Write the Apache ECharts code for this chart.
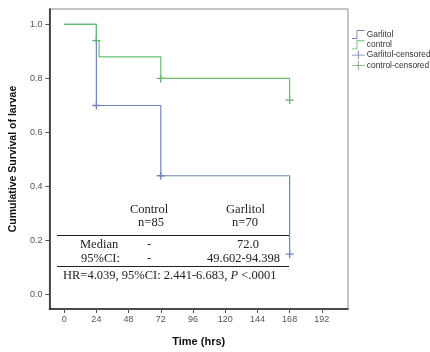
<!DOCTYPE html>
<html>
<head>
<meta charset="utf-8">
<script src="https://cdn.jsdelivr.net/npm/echarts@6/dist/echarts.min.js"></script>
<style>
  html, body { margin: 0; padding: 0; background: #fff; }
  #km { width: 430px; height: 352px; }
</style>
</head>
<body>
<div id="km"></div>
<script>
// Kaplan-Meier steps: [time (hrs), survival]
var garlitolSteps = [[0, 1.0], [24, 0.70], [72, 0.44], [168, 0.15]];
var controlSteps = [[0, 1.0], [24, 0.94], [26, 0.88], [72, 0.80], [168, 0.72]];
var garlitolCensored = [[24, 0.70], [72, 0.44], [168, 0.15]];
var controlCensored = [[24, 0.94], [72, 0.80], [168, 0.72]];

var xTicks = [0, 24, 48, 72, 96, 120, 144, 168, 192];
var yTicks = [0, 0.2, 0.4, 0.6, 0.8, 1.0];

var seriesNames = ['Garlitol', 'control', 'Garlitol-censored', 'control-censored'];
var blue = '#7486c0';
var green = '#68bd72';

var chartDom = document.getElementById('km');
var myChart = echarts.init(chartDom);
var option;

var stepIcon = 'path://M0,9H5V0H14V1H6V10H0Z';
var plusIcon = 'path://M0,4.5H6.5V0H7.5V4.5H14V5.5H7.5V10H6.5V5.5H0Z';
var censorMark = 'path://M4.2,0H5.8V4.2H10V5.8H5.8V10H4.2V5.8H0V4.2H4.2Z';

var serif = '"Liberation Serif", "DejaVu Serif", serif';
var sans = '"Liberation Sans", Arial, sans-serif';
var tableFont = '12.5px ' + serif;

option = {
  animation: false,
  textStyle: { fontFamily: sans },
  grid: {
    left: 43,
    right: 82,
    top: 9,
    bottom: 36,
    show: true,
    borderColor: '#8a8a8a',
    borderWidth: 1
  },
  legend: {
    orient: 'vertical',
    left: 347,
    top: 25,
    itemWidth: 15,
    itemHeight: 9,
    itemGap: 1.3,
    selectedMode: false,
    textStyle: { fontSize: 8.4, color: '#333', padding: [0, 0, 0, -4] },
    data: [
      { name: seriesNames[0], icon: stepIcon },
      { name: seriesNames[1], icon: stepIcon },
      { name: seriesNames[2], icon: plusIcon },
      { name: seriesNames[3], icon: plusIcon }
    ]
  },
  xAxis: {
    type: 'value',
    min: -11,
    max: 211.5,
    name: 'Time (hrs)',
    nameLocation: 'middle',
    nameGap: 27,
    nameTextStyle: { fontWeight: 'bold', fontSize: 11, color: '#111' },
    splitLine: { show: false },
    axisLine: { show: true, onZero: false, lineStyle: { color: '#222', width: 1.5 } },
    axisTick: { show: true, length: 4, customValues: xTicks, lineStyle: { color: '#555' } },
    axisLabel: { customValues: xTicks, margin: 6, fontSize: 9, color: '#555' }
  },
  yAxis: {
    type: 'value',
    min: -0.053,
    max: 1.057,
    name: 'Cumulative Survival of larvae',
    nameLocation: 'middle',
    nameGap: 30,
    nameTextStyle: { fontWeight: 'bold', fontSize: 10.5, color: '#111' },
    splitLine: { show: false },
    axisLine: { show: true, onZero: false, lineStyle: { color: '#222', width: 1.5 } },
    axisTick: { show: true, length: 4, customValues: yTicks, lineStyle: { color: '#555' } },
    axisLabel: {
      customValues: yTicks,
      margin: 7,
      fontSize: 9,
      color: '#555',
      formatter: function (v) { return v.toFixed(1); }
    }
  },
  series: [
    {
      name: seriesNames[0],
      type: 'line',
      step: 'end',
      symbol: 'none',
      color: blue,
      lineStyle: { width: 1.2, color: blue },
      data: garlitolSteps
    },
    {
      name: seriesNames[1],
      type: 'line',
      step: 'end',
      symbol: 'none',
      color: green,
      lineStyle: { width: 1.2, color: green },
      data: controlSteps
    },
    {
      name: seriesNames[2],
      type: 'scatter',
      symbol: censorMark,
      symbolSize: 8,
      color: '#4a5ca6',
      data: garlitolCensored
    },
    {
      name: seriesNames[3],
      type: 'scatter',
      symbol: censorMark,
      symbolSize: 8,
      color: '#3f9a4c',
      data: controlCensored
    }
  ],
  graphic: [
    { type: 'text', x: 149, y: 210, style: { text: 'Control', font: tableFont, fill: '#222', align: 'center', verticalAlign: 'middle' } },
    { type: 'text', x: 151, y: 223, style: { text: 'n=85', font: tableFont, fill: '#222', align: 'center', verticalAlign: 'middle' } },
    { type: 'text', x: 245.5, y: 210, style: { text: 'Garlitol', font: tableFont, fill: '#222', align: 'center', verticalAlign: 'middle' } },
    { type: 'text', x: 245, y: 223, style: { text: 'n=70', font: tableFont, fill: '#222', align: 'center', verticalAlign: 'middle' } },
    { type: 'line', shape: { x1: 57, y1: 235.5, x2: 289, y2: 235.5 }, style: { stroke: '#222', lineWidth: 1 } },
    { type: 'text', x: 80, y: 245, style: { text: 'Median', font: tableFont, fill: '#222', align: 'left', verticalAlign: 'middle' } },
    { type: 'text', x: 149, y: 245, style: { text: '-', font: tableFont, fill: '#222', align: 'center', verticalAlign: 'middle' } },
    { type: 'text', x: 248, y: 245, style: { text: '72.0', font: tableFont, fill: '#222', align: 'center', verticalAlign: 'middle' } },
    { type: 'text', x: 81, y: 259, style: { text: '95%CI:', font: tableFont, fill: '#222', align: 'left', verticalAlign: 'middle' } },
    { type: 'text', x: 149, y: 259, style: { text: '-', font: tableFont, fill: '#222', align: 'center', verticalAlign: 'middle' } },
    { type: 'text', x: 280, y: 259, style: { text: '49.602-94.398', font: tableFont, fill: '#222', align: 'right', verticalAlign: 'middle' } },
    { type: 'line', shape: { x1: 57, y1: 266.5, x2: 289, y2: 266.5 }, style: { stroke: '#222', lineWidth: 1 } },
    {
      type: 'text', x: 63, y: 276,
      style: {
        text: 'HR=4.039, 95%CI: 2.441-6.683, {i|P} <.0001',
        font: tableFont, fill: '#222', align: 'left', verticalAlign: 'middle',
        rich: { i: { fontStyle: 'italic', fontFamily: serif, fontSize: 12.5, fill: '#222' } }
      }
    }
  ]
};

option && myChart.setOption(option);
</script>
</body>
</html>
